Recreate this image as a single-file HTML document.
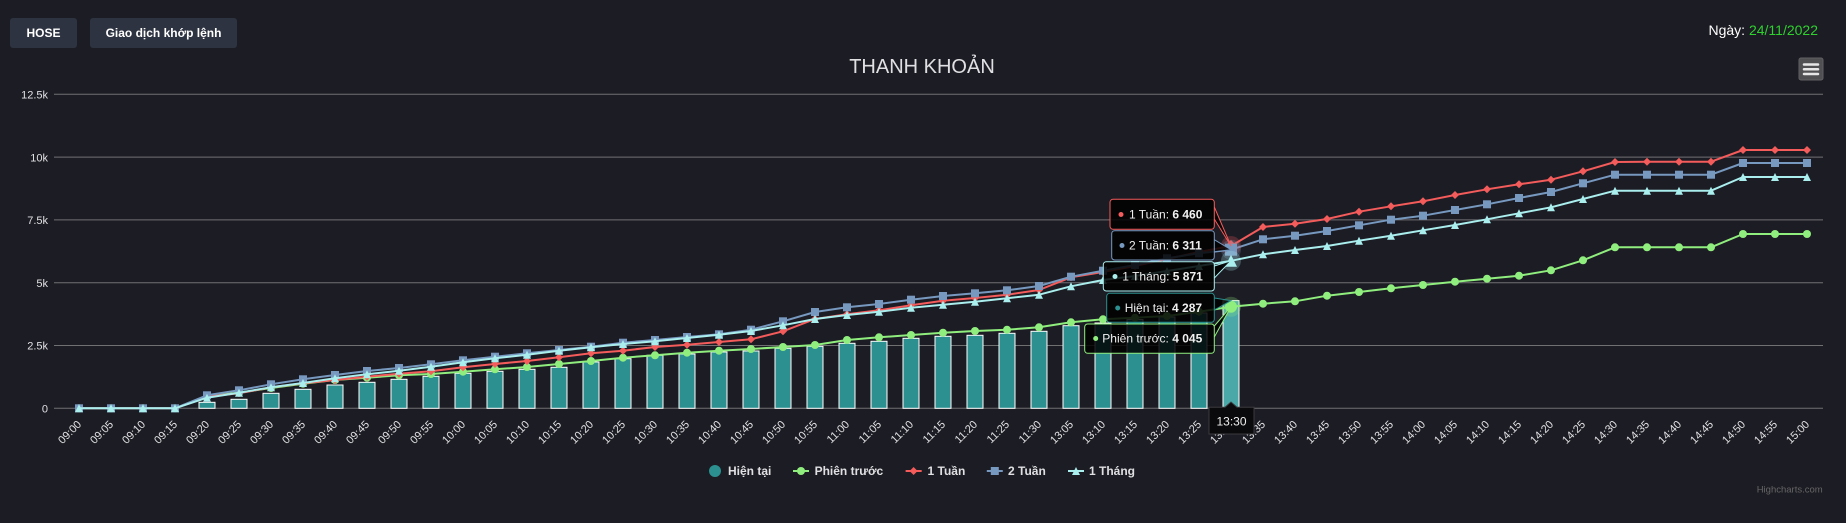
<!DOCTYPE html>
<html><head><meta charset="utf-8"><style>
html,body{margin:0;padding:0;background:#1c1c24;}
svg{display:block;font-family:"Liberation Sans","DejaVu Sans",Arial,sans-serif;}
</style></head><body>
<svg width="1846" height="523" viewBox="0 0 1846 523" xmlns="http://www.w3.org/2000/svg">
<defs>
<marker id="mg" markerWidth="10" markerHeight="10" refX="5" refY="5" markerUnits="userSpaceOnUse"><circle cx="5" cy="5" r="4" fill="#90ee7e"/></marker>
<marker id="mr" markerWidth="10" markerHeight="10" refX="5" refY="5" markerUnits="userSpaceOnUse"><polygon points="5,1 9,5 5,9 1,5" fill="#f45b5b"/></marker>
<marker id="mb" markerWidth="10" markerHeight="10" refX="5" refY="5" markerUnits="userSpaceOnUse"><rect x="1" y="1" width="8" height="8" fill="#7798bf"/></marker>
<marker id="mc" markerWidth="10" markerHeight="10" refX="5" refY="5" markerUnits="userSpaceOnUse"><polygon points="5,1 9,9 1,9" fill="#aaeeee"/></marker>
</defs>
<rect x="0" y="0" width="1846" height="523" fill="#1c1c24"/>

<!-- top buttons -->
<rect x="10" y="18" width="67" height="30" rx="3" fill="#2d3340"/>
<text x="43.5" y="37" text-anchor="middle" font-size="12" font-weight="bold" fill="#ffffff">HOSE</text>
<rect x="90" y="18" width="147" height="30" rx="3" fill="#2d3340"/>
<text x="163.5" y="37" text-anchor="middle" font-size="12" font-weight="bold" fill="#ffffff">Giao dịch khớp lệnh</text>

<text x="1818" y="35" text-anchor="end" font-size="14"><tspan fill="#ffffff">Ngày: </tspan><tspan fill="#2fd12f">24/11/2022</tspan></text>

<!-- menu button -->
<rect x="1799" y="58" width="24" height="22" rx="2" fill="#505053" stroke="#606063" stroke-width="1"/>
<path d="M1804 64.5H1818M1804 69.3H1818M1804 74H1818" stroke="#e6e6e6" stroke-width="2.5" stroke-linecap="round"/>

<!-- title -->
<text x="922" y="73" text-anchor="middle" font-size="20" fill="#e0e0e3">THANH KHOẢN</text>

<!-- grid -->
<g stroke="#707073" stroke-width="1">
<line x1="54" y1="94.3" x2="1823" y2="94.3"/>
<line x1="54" y1="157.1" x2="1823" y2="157.1"/>
<line x1="54" y1="219.9" x2="1823" y2="219.9"/>
<line x1="54" y1="282.7" x2="1823" y2="282.7"/>
<line x1="54" y1="345.5" x2="1823" y2="345.5"/>
<line x1="54" y1="408.3" x2="1823" y2="408.3"/>
</g>
<g font-size="11" fill="#e0e0e3" text-anchor="end">
<text x="48" y="98.5">12.5k</text>
<text x="48" y="161.3">10k</text>
<text x="48" y="224.1">7.5k</text>
<text x="48" y="286.9">5k</text>
<text x="48" y="349.7">2.5k</text>
<text x="48" y="412.5">0</text>
</g>

<!-- x labels -->
<g font-size="11" fill="#e0e0e3" text-anchor="end">
<text x="82" y="425" transform="rotate(-45 82 425)">09:00</text>
<text x="114" y="425" transform="rotate(-45 114 425)">09:05</text>
<text x="146" y="425" transform="rotate(-45 146 425)">09:10</text>
<text x="178" y="425" transform="rotate(-45 178 425)">09:15</text>
<text x="210" y="425" transform="rotate(-45 210 425)">09:20</text>
<text x="242" y="425" transform="rotate(-45 242 425)">09:25</text>
<text x="274" y="425" transform="rotate(-45 274 425)">09:30</text>
<text x="306" y="425" transform="rotate(-45 306 425)">09:35</text>
<text x="338" y="425" transform="rotate(-45 338 425)">09:40</text>
<text x="370" y="425" transform="rotate(-45 370 425)">09:45</text>
<text x="402" y="425" transform="rotate(-45 402 425)">09:50</text>
<text x="434" y="425" transform="rotate(-45 434 425)">09:55</text>
<text x="466" y="425" transform="rotate(-45 466 425)">10:00</text>
<text x="498" y="425" transform="rotate(-45 498 425)">10:05</text>
<text x="530" y="425" transform="rotate(-45 530 425)">10:10</text>
<text x="562" y="425" transform="rotate(-45 562 425)">10:15</text>
<text x="594" y="425" transform="rotate(-45 594 425)">10:20</text>
<text x="626" y="425" transform="rotate(-45 626 425)">10:25</text>
<text x="658" y="425" transform="rotate(-45 658 425)">10:30</text>
<text x="690" y="425" transform="rotate(-45 690 425)">10:35</text>
<text x="722" y="425" transform="rotate(-45 722 425)">10:40</text>
<text x="754" y="425" transform="rotate(-45 754 425)">10:45</text>
<text x="786" y="425" transform="rotate(-45 786 425)">10:50</text>
<text x="818" y="425" transform="rotate(-45 818 425)">10:55</text>
<text x="850" y="425" transform="rotate(-45 850 425)">11:00</text>
<text x="882" y="425" transform="rotate(-45 882 425)">11:05</text>
<text x="914" y="425" transform="rotate(-45 914 425)">11:10</text>
<text x="946" y="425" transform="rotate(-45 946 425)">11:15</text>
<text x="978" y="425" transform="rotate(-45 978 425)">11:20</text>
<text x="1010" y="425" transform="rotate(-45 1010 425)">11:25</text>
<text x="1042" y="425" transform="rotate(-45 1042 425)">11:30</text>
<text x="1074" y="425" transform="rotate(-45 1074 425)">13:05</text>
<text x="1106" y="425" transform="rotate(-45 1106 425)">13:10</text>
<text x="1138" y="425" transform="rotate(-45 1138 425)">13:15</text>
<text x="1170" y="425" transform="rotate(-45 1170 425)">13:20</text>
<text x="1202" y="425" transform="rotate(-45 1202 425)">13:25</text>
<text x="1234" y="425" transform="rotate(-45 1234 425)">13:30</text>
<text x="1266" y="425" transform="rotate(-45 1266 425)">13:35</text>
<text x="1298" y="425" transform="rotate(-45 1298 425)">13:40</text>
<text x="1330" y="425" transform="rotate(-45 1330 425)">13:45</text>
<text x="1362" y="425" transform="rotate(-45 1362 425)">13:50</text>
<text x="1394" y="425" transform="rotate(-45 1394 425)">13:55</text>
<text x="1426" y="425" transform="rotate(-45 1426 425)">14:00</text>
<text x="1458" y="425" transform="rotate(-45 1458 425)">14:05</text>
<text x="1490" y="425" transform="rotate(-45 1490 425)">14:10</text>
<text x="1522" y="425" transform="rotate(-45 1522 425)">14:15</text>
<text x="1554" y="425" transform="rotate(-45 1554 425)">14:20</text>
<text x="1586" y="425" transform="rotate(-45 1586 425)">14:25</text>
<text x="1618" y="425" transform="rotate(-45 1618 425)">14:30</text>
<text x="1650" y="425" transform="rotate(-45 1650 425)">14:35</text>
<text x="1682" y="425" transform="rotate(-45 1682 425)">14:40</text>
<text x="1714" y="425" transform="rotate(-45 1714 425)">14:45</text>
<text x="1746" y="425" transform="rotate(-45 1746 425)">14:50</text>
<text x="1778" y="425" transform="rotate(-45 1778 425)">14:55</text>
<text x="1810" y="425" transform="rotate(-45 1810 425)">15:00</text>
</g>

<!-- bars -->
<g fill="#2b908f" stroke="#ffffff" stroke-width="1">
<rect x="199" y="402.3" width="16" height="6"/>
<rect x="231" y="399.3" width="16" height="9"/>
<rect x="263" y="393.3" width="16" height="15"/>
<rect x="295" y="389.3" width="16" height="19"/>
<rect x="327" y="385" width="16" height="23.3"/>
<rect x="359" y="382.3" width="16" height="26"/>
<rect x="391" y="379.3" width="16" height="29"/>
<rect x="423" y="376.3" width="16" height="32"/>
<rect x="455" y="373.3" width="16" height="35"/>
<rect x="487" y="371.3" width="16" height="37"/>
<rect x="519" y="369.3" width="16" height="39"/>
<rect x="551" y="367.3" width="16" height="41"/>
<rect x="583" y="362" width="16" height="46.3"/>
<rect x="615" y="358.7" width="16" height="49.6"/>
<rect x="647" y="355.3" width="16" height="53"/>
<rect x="679" y="354" width="16" height="54.3"/>
<rect x="711" y="352" width="16" height="56.3"/>
<rect x="743" y="351" width="16" height="57.3"/>
<rect x="775" y="348.3" width="16" height="60"/>
<rect x="807" y="346.3" width="16" height="62"/>
<rect x="839" y="343.3" width="16" height="65"/>
<rect x="871" y="341.3" width="16" height="67"/>
<rect x="903" y="338.3" width="16" height="70"/>
<rect x="935" y="336.3" width="16" height="72"/>
<rect x="967" y="335.3" width="16" height="73"/>
<rect x="999" y="333.3" width="16" height="75"/>
<rect x="1031" y="331.3" width="16" height="77"/>
<rect x="1063" y="325.7" width="16" height="82.6"/>
<rect x="1095" y="323" width="16" height="85.3"/>
<rect x="1127" y="319.5" width="16" height="88.8"/>
<rect x="1159" y="317" width="16" height="91.3"/>
<rect x="1191" y="313" width="16" height="95.3"/>
<rect x="1223" y="300.6" width="16" height="107.7" fill="#4aa9a8"/>
</g>

<!-- lines -->
<g fill="none" stroke-width="2" stroke-linejoin="round">
<path stroke="#90ee7e" marker-start="url(#mg)" marker-mid="url(#mg)" marker-end="url(#mg)" d="M79,408.3 L111,408.3 L143,408.3 L175,408.3 L207,395.7 L239,392.7 L271,388 L303,383.7 L335,380 L367,377.7 L399,375.3 L431,374 L463,371.7 L495,369.3 L527,367 L559,364 L591,361 L623,357.7 L655,355.3 L687,352.7 L719,350.7 L751,349 L783,347 L815,345 L847,340 L879,337.3 L911,335 L943,332.7 L975,331 L1007,329.7 L1039,327.3 L1071,322.3 L1103,319.3 L1135,317.7 L1167,316 L1199,311.7 L1231,306.7 L1263,303.7 L1295,301.3 L1327,295.7 L1359,292 L1391,288.3 L1423,285 L1455,281.7 L1487,278.7 L1519,275.7 L1551,270.3 L1583,260.3 L1615,247.3 L1647,247.3 L1679,247.3 L1711,247.3 L1743,234 L1775,234 L1807,234"/>
<path stroke="#f45b5b" marker-start="url(#mr)" marker-mid="url(#mr)" marker-end="url(#mr)" d="M79,408.3 L111,408.3 L143,408.3 L175,408.3 L207,396.7 L239,393.3 L271,387.3 L303,383.3 L335,380 L367,376.7 L399,373.7 L431,371.3 L463,367.3 L495,364 L527,361 L559,357.3 L591,353.3 L623,350.7 L655,347 L687,344.7 L719,342 L751,339.3 L783,331.3 L815,319 L847,314.3 L879,310.3 L911,305.3 L943,300.7 L975,298 L1007,294.7 L1039,290 L1071,277.3 L1103,272 L1135,266 L1167,259 L1199,252 L1231,246 L1263,227 L1295,223.7 L1327,219 L1359,211.7 L1391,206.3 L1423,201.3 L1455,195 L1487,189.3 L1519,184.3 L1551,179.7 L1583,171.3 L1615,162 L1647,161.7 L1679,161.7 L1711,161.7 L1743,150 L1775,150 L1807,150"/>
<path stroke="#7798bf" marker-start="url(#mb)" marker-mid="url(#mb)" marker-end="url(#mb)" d="M79,408.3 L111,408.3 L143,408.3 L175,408.3 L207,395.3 L239,390.3 L271,384.3 L303,379.3 L335,375 L367,371 L399,368 L431,364.3 L463,360.3 L495,356.7 L527,353.3 L559,350 L591,346.7 L623,342.7 L655,340 L687,337 L719,334.3 L751,329.7 L783,321.3 L815,312 L847,307.3 L879,304 L911,299.7 L943,296 L975,293.3 L1007,290.3 L1039,286 L1071,276.7 L1103,270.7 L1135,265 L1167,258.3 L1199,253.3 L1231,249.7 L1263,239.3 L1295,235.7 L1327,231 L1359,225.3 L1391,219.7 L1423,215.7 L1455,210 L1487,204.3 L1519,198 L1551,192 L1583,183.3 L1615,174.7 L1647,174.7 L1679,174.7 L1711,174.7 L1743,163 L1775,163 L1807,163"/>
<path stroke="#aaeeee" marker-start="url(#mc)" marker-mid="url(#mc)" marker-end="url(#mc)" d="M79,408.3 L111,408.3 L143,408.3 L175,408.3 L207,397.7 L239,392.7 L271,387.3 L303,383 L335,378.3 L367,374.3 L399,370.7 L431,366.7 L463,362.3 L495,358.3 L527,354.7 L559,350.7 L591,347.3 L623,344 L655,341.3 L687,338 L719,334.7 L751,331 L783,325.3 L815,319 L847,315 L879,311.7 L911,307.7 L943,304.7 L975,301.7 L1007,298.3 L1039,294.7 L1071,286.3 L1103,280 L1135,276 L1167,271 L1199,266 L1231,260.8 L1263,254.3 L1295,250 L1327,246 L1359,240.7 L1391,235.7 L1423,230.3 L1455,225 L1487,219.3 L1519,213.3 L1551,207.3 L1583,199 L1615,190.7 L1647,190.7 L1679,190.7 L1711,190.7 L1743,177 L1775,177 L1807,177"/>
</g>

<!-- hover halos -->
<circle cx="1231" cy="306.7" r="10" fill="#90ee7e" opacity="0.25"/>
<circle cx="1231" cy="306.7" r="6" fill="#90ee7e"/>
<circle cx="1231" cy="246" r="10" fill="#f45b5b" opacity="0.25"/>
<polygon points="1231,240 1237,246 1231,252 1225,246" fill="#f45b5b"/>
<circle cx="1231" cy="249.7" r="10" fill="#7798bf" opacity="0.25"/>
<rect x="1225" y="243.7" width="12" height="12" fill="#7798bf"/>
<circle cx="1231" cy="260.8" r="10" fill="#aaeeee" opacity="0.25"/>
<polygon points="1231,254.8 1237,266.8 1225,266.8" fill="#aaeeee"/>

<!-- tooltips -->
<g font-size="12" fill="#f0f0f0">
<path d="M1214.3,207 L1231,246 L1214.3,219" fill="rgba(0,0,0,0.85)" stroke="#f45b5b" stroke-width="1"/>
<rect x="1110" y="199.3" width="104.3" height="30" rx="3" fill="rgba(0,0,0,0.85)" stroke="#f45b5b" stroke-width="1"/>
<circle cx="1121" cy="214.5" r="2.5" fill="#f45b5b"/>
<text x="1129" y="218.5">1 Tuần: <tspan font-weight="bold">6 460</tspan></text>

<path d="M1214.3,239.7 L1231,249.7 L1214.3,251.7" fill="rgba(0,0,0,0.85)" stroke="#7798bf" stroke-width="1"/>
<rect x="1111.7" y="230.7" width="102.6" height="29.3" rx="3" fill="rgba(0,0,0,0.85)" stroke="#7798bf" stroke-width="1"/>
<circle cx="1122" cy="245.5" r="2.5" fill="#7798bf"/>
<text x="1129" y="249.5">2 Tuần: <tspan font-weight="bold">6 311</tspan></text>

<path d="M1214.3,266 L1231,260.8 L1214.3,278" fill="rgba(0,0,0,0.85)" stroke="#aaeeee" stroke-width="1"/>
<rect x="1103.3" y="261.7" width="111" height="29.3" rx="3" fill="rgba(0,0,0,0.85)" stroke="#aaeeee" stroke-width="1"/>
<circle cx="1115" cy="276.5" r="2.5" fill="#aaeeee"/>
<text x="1122.3" y="280.5">1 Tháng: <tspan font-weight="bold">5 871</tspan></text>

<path d="M1214.3,298 L1231,300.6 L1214.3,310" fill="rgba(0,0,0,0.85)" stroke="#2b908f" stroke-width="1"/>
<rect x="1106.7" y="293.3" width="107.6" height="29" rx="3" fill="rgba(0,0,0,0.85)" stroke="#2b908f" stroke-width="1"/>
<circle cx="1117.7" cy="308" r="2.5" fill="#2b908f"/>
<text x="1124.7" y="312">Hiện tại: <tspan font-weight="bold">4 287</tspan></text>

<path d="M1214.3,326 L1231,306.7 L1214.3,337" fill="rgba(0,0,0,0.85)" stroke="#90ee7e" stroke-width="1"/>
<rect x="1084.7" y="324" width="129.6" height="29.3" rx="3" fill="rgba(0,0,0,0.85)" stroke="#90ee7e" stroke-width="1"/>
<circle cx="1095.7" cy="338.5" r="2.5" fill="#90ee7e"/>
<text x="1102.3" y="342.5">Phiên trước: <tspan font-weight="bold">4 045</tspan></text>

<path d="M1209,407.3 H1225 L1231,402 L1237,407.3 H1254 V434 H1209 Z" fill="#0a0a0c" stroke="#3a3a3e" stroke-width="1"/>
<text x="1231.5" y="425.7" text-anchor="middle">13:30</text>
</g>

<!-- legend -->
<g font-size="12" font-weight="bold" fill="#e0e0e3">
<circle cx="715" cy="471" r="6" fill="#2b908f"/>
<text x="728" y="475">Hiện tại</text>
<line x1="793" y1="471" x2="809" y2="471" stroke="#90ee7e" stroke-width="2"/>
<circle cx="801" cy="471" r="4" fill="#90ee7e"/>
<text x="814.6" y="475">Phiên trước</text>
<line x1="905.6" y1="471" x2="921.7" y2="471" stroke="#f45b5b" stroke-width="2"/>
<polygon points="913.6,467 917.6,471 913.6,475 909.6,471" fill="#f45b5b"/>
<text x="927.5" y="475">1 Tuần</text>
<line x1="986.8" y1="471" x2="1002.8" y2="471" stroke="#7798bf" stroke-width="2"/>
<rect x="990.8" y="467" width="8" height="8" fill="#7798bf"/>
<text x="1008" y="475">2 Tuần</text>
<line x1="1068" y1="471" x2="1084" y2="471" stroke="#aaeeee" stroke-width="2"/>
<polygon points="1076,467 1080,475 1072,475" fill="#aaeeee"/>
<text x="1089" y="475">1 Tháng</text>
</g>

<text x="1822.7" y="492.7" text-anchor="end" font-size="9.5" fill="#666666">Highcharts.com</text>
</svg>
</body></html>
